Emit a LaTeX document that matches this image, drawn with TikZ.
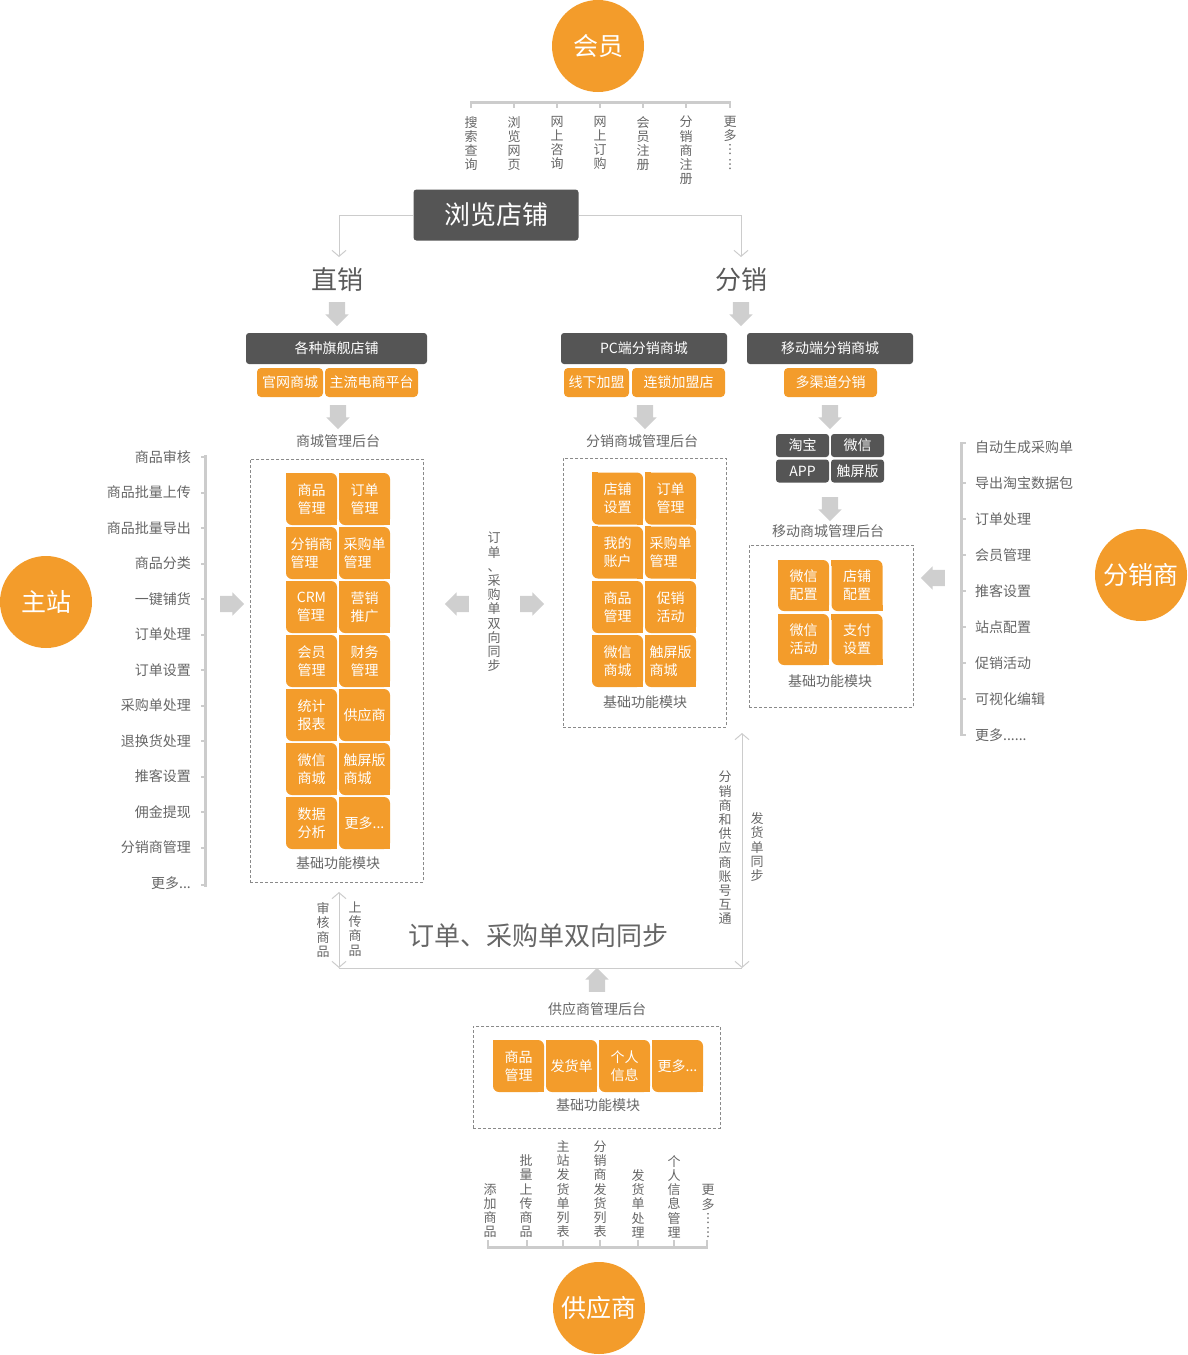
\documentclass[tikz,border=0pt]{standalone}
\usepackage{fontspec}
\setmainfont{Noto Sans CJK SC}
\usetikzlibrary{arrows.meta,shapes.arrows}
\definecolor{tileorange}{HTML}{F39C2B}
\definecolor{boxgray}{HTML}{555555}
\definecolor{textgray}{HTML}{666666}
\definecolor{headgray}{HTML}{5A5A5A}
\definecolor{linegray}{HTML}{CCCCCC}
\definecolor{arrowgray}{HTML}{CFCFCF}
\definecolor{dashgray}{HTML}{8A8A8A}

\begin{document}
\begin{tikzpicture}[x=1pt,y=-1pt,
  rolecircle/.style={circle,fill=tileorange,text=white,minimum size=92pt,inner sep=0pt,font=\fontsize{25}{27}\selectfont},
  darkbox/.style={fill=boxgray,text=white,rounded corners=3pt,minimum height=31pt,inner sep=0pt,font=\fontsize{14}{16}\selectfont},
  darktile/.style={fill=boxgray,text=white,rounded corners=3pt,minimum width=53pt,minimum height=23pt,inner sep=0pt,font=\fontsize{14}{16}\selectfont},
  orangetag/.style={fill=tileorange,text=white,rounded corners=4pt,minimum height=29pt,inner sep=0pt,font=\fontsize{14}{16}\selectfont},
  tile/.style={fill=tileorange,text=white,rounded corners=6pt,minimum width=51pt,minimum height=52pt,inner sep=0pt,align=left,font=\fontsize{14}{18}\selectfont,
    append after command={\pgfextra{\fill[tileorange,sharp corners] (\tikzlastnode.north west) rectangle ++(6pt,-6pt);
      \fill[tileorange,sharp corners] (\tikzlastnode.south east) rectangle ++(-6pt,6pt);}}},
  dashbox/.style={draw=dashgray,dash pattern=on 3pt off 2pt,line width=0.8pt,inner sep=0pt,anchor=north west},
  listlabel/.style={text=textgray,inner sep=0pt,font=\fontsize{14}{16}\selectfont},
  vlabel/.style={text=textgray,inner sep=0pt,align=center,font=\fontsize{13}{14.2}\selectfont},
  heading/.style={text=headgray,inner sep=0pt,font=\fontsize{26}{28}\selectfont},
  blockarrow/.style={single arrow,fill=arrowgray,minimum height=24pt,minimum width=0pt,single arrow head extend=3.5pt,inner xsep=0pt,inner ysep=8pt},
  thinconn/.style={draw=linegray,line width=1pt},
  bracketline/.style={draw=linegray,line width=3pt},
  bracketick/.style={draw=linegray,line width=2pt},
  chevron/.tip={Straight Barb[length=6pt,width=14pt,line width=1pt]}
]
\useasboundingbox (0,0) rectangle (1187,1355);

% role circles
\node [rolecircle] (member) at (598,46) {会员};
\node [rolecircle] (mainsite) at (46,602) {主站};
\node [rolecircle] (reseller) at (1141,575) {分销商};
\node [rolecircle] (supplier) at (599,1308) {供应商};

% member functions
\draw [bracketline] (470,102) -- (731,102);
\draw [bracketick] (471,102) -- (471,108);
\draw [bracketick] (514,102) -- (514,108);
\draw [bracketick] (557,102) -- (557,108);
\draw [bracketick] (600,102) -- (600,108);
\draw [bracketick] (643,102) -- (643,108);
\draw [bracketick] (686,102) -- (686,108);
\draw [bracketick] (730,102) -- (730,108);
\node [vlabel,anchor=north] (mb1) at (471,116) {搜\\索\\查\\询};
\node [vlabel,anchor=north] (mb2) at (514,116) {浏\\览\\网\\页};
\node [vlabel,anchor=north] (mb3) at (557,116) {网\\上\\咨\\询};
\node [vlabel,anchor=north] (mb4) at (600,116) {网\\上\\订\\购};
\node [vlabel,anchor=north] (mb5) at (643,116) {会\\员\\注\\册};
\node [vlabel,anchor=north] (mb6) at (686,116) {分\\销\\商\\注\\册};
\node [vlabel,anchor=north] (mb7) at (730,116) {更\\多\\︙\\︙};

% browse and the two channels
\node [darkbox,minimum width=165pt,minimum height=51pt,font=\fontsize{26}{28}\selectfont] (browse) at (496,215) {浏览店铺};
\coordinate (dtip) at (339,257);
\coordinate (rtip) at (741,257);
\draw [thinconn,-chevron] (browse.west) -| (dtip);
\draw [thinconn,-chevron] (browse.east) -| (rtip);
\node [heading] (direct) at (337,280) {直销};
\node [heading] (resell) at (741,280) {分销};
\node [blockarrow,rotate=-90] (ar1) at (337,310) {};
\node [blockarrow,rotate=-90] (ar2) at (741,310) {};

% shop types
\node [darkbox,minimum width=181pt] (flagship) at (336.5,348.5) {各种旗舰店铺};
\node [orangetag,minimum width=66pt] (tag1) at (290,382.5) {官网商城};
\node [orangetag,minimum width=93pt] (tag2) at (371.5,382.5) {主流电商平台};
\node [darkbox,minimum width=166pt] (pcmall) at (644,348.5) {PC端分销商城};
\node [orangetag,minimum width=65pt] (tag3) at (596.5,382.5) {线下加盟};
\node [orangetag,minimum width=93pt] (tag4) at (678.5,382.5) {连锁加盟店};
\node [darkbox,minimum width=166pt] (mobilemall) at (830,348.5) {移动端分销商城};
\node [orangetag,minimum width=93pt] (tag5) at (830.5,382.5) {多渠道分销};
\node [blockarrow,rotate=-90] (ar3) at (338,413) {};
\node [blockarrow,rotate=-90] (ar4) at (645,413) {};
\node [blockarrow,rotate=-90] (ar5) at (830,413) {};

% mobile channels
\node [darktile] (taobao) at (802.5,445.5) {淘宝};
\node [darktile] (wechat) at (857.5,445.5) {微信};
\node [darktile] (app) at (802.5,471) {APP};
\node [darktile] (touch) at (857.5,471) {触屏版};
\node [blockarrow,rotate=-90] (ar6) at (830,505) {};

% back-office titles
\node [listlabel] (malltitle) at (338,441) {商城管理后台};
\node [listlabel] (pctitle) at (642,441) {分销商城管理后台};
\node [listlabel] (mobiletitle) at (828,531) {移动商城管理后台};
\node [listlabel] (suppliertitle) at (597,1009) {供应商管理后台};

% mall back office
\node [dashbox,minimum width=173pt,minimum height=423pt] (mallbox) at (250,459) {};
\node [tile] (m11) at (311.5,499) {商品\\管理};
\node [tile] (m12) at (364.5,499) {订单\\管理};
\node [tile] (m21) at (311.5,553) {分销商\\管理};
\node [tile] (m22) at (364.5,553) {采购单\\管理};
\node [tile] (m31) at (311.5,607) {CRM\\管理};
\node [tile] (m32) at (364.5,607) {营销\\推广};
\node [tile] (m41) at (311.5,661) {会员\\管理};
\node [tile] (m42) at (364.5,661) {财务\\管理};
\node [tile] (m51) at (311.5,715) {统计\\报表};
\node [tile] (m52) at (364.5,715) {供应商};
\node [tile] (m61) at (311.5,769) {微信\\商城};
\node [tile] (m62) at (364.5,769) {触屏版\\商城};
\node [tile] (m71) at (311.5,823) {数据\\分析};
\node [tile] (m72) at (364.5,823) {更多...};
\node [listlabel] (mallbase) at (338,863) {基础功能模块};

% reseller mall back office
\node [dashbox,minimum width=163pt,minimum height=269pt] (pcbox) at (563,458) {};
\node [tile] (p11) at (617.5,498.5) {店铺\\设置};
\node [tile] (p12) at (670.5,498.5) {订单\\管理};
\node [tile] (p21) at (617.5,552.5) {我的\\账户};
\node [tile] (p22) at (670.5,552.5) {采购单\\管理};
\node [tile] (p31) at (617.5,607) {商品\\管理};
\node [tile] (p32) at (670.5,607) {促销\\活动};
\node [tile] (p41) at (617.5,661) {微信\\商城};
\node [tile] (p42) at (670.5,661) {触屏版\\商城};
\node [listlabel] (pcbase) at (645,702) {基础功能模块};

% mobile back office
\node [dashbox,minimum width=164pt,minimum height=162pt] (mobilebox) at (749,545) {};
\node [tile,minimum height=51pt] (w11) at (803.5,585.5) {微信\\配置};
\node [tile,minimum height=51pt] (w12) at (857,585.5) {店铺\\配置};
\node [tile,minimum height=51pt] (w21) at (803.5,639.5) {微信\\活动};
\node [tile,minimum height=51pt] (w22) at (857,639.5) {支付\\设置};
\node [listlabel] (mobilebase) at (830,681) {基础功能模块};

% supplier back office
\node [dashbox,minimum width=247pt,minimum height=102pt] (supplierbox) at (473,1026) {};
\node [tile] (s1) at (518.5,1066) {商品\\管理};
\node [tile] (s2) at (571.5,1066) {发货单};
\node [tile] (s3) at (624.5,1066) {个人\\信息};
\node [tile] (s4) at (677.5,1066) {更多...};
\node [listlabel] (supplierbase) at (598,1105) {基础功能模块};

% main site functions
\draw [bracketline] (205,455) -- (205,887);
\node [listlabel,anchor=east] (ml1) at (191,457) {商品审核};
\node [listlabel,anchor=east] (ml2) at (191,492.5) {商品批量上传};
\node [listlabel,anchor=east] (ml3) at (191,528) {商品批量导出};
\node [listlabel,anchor=east] (ml4) at (191,563.5) {商品分类};
\node [listlabel,anchor=east] (ml5) at (191,599) {一键铺货};
\node [listlabel,anchor=east] (ml6) at (191,634.5) {订单处理};
\node [listlabel,anchor=east] (ml7) at (191,670) {订单设置};
\node [listlabel,anchor=east] (ml8) at (191,705.5) {采购单处理};
\node [listlabel,anchor=east] (ml9) at (191,741) {退换货处理};
\node [listlabel,anchor=east] (ml10) at (191,776.5) {推客设置};
\node [listlabel,anchor=east] (ml11) at (191,812) {佣金提现};
\node [listlabel,anchor=east] (ml12) at (191,847.5) {分销商管理};
\node [listlabel,anchor=east] (ml13) at (191,883) {更多...};
\draw [bracketick] (201,457) -- (205,457);
\draw [bracketick] (201,492.5) -- (205,492.5);
\draw [bracketick] (201,528) -- (205,528);
\draw [bracketick] (201,563.5) -- (205,563.5);
\draw [bracketick] (201,599) -- (205,599);
\draw [bracketick] (201,634.5) -- (205,634.5);
\draw [bracketick] (201,670) -- (205,670);
\draw [bracketick] (201,705.5) -- (205,705.5);
\draw [bracketick] (201,741) -- (205,741);
\draw [bracketick] (201,776.5) -- (205,776.5);
\draw [bracketick] (201,812) -- (205,812);
\draw [bracketick] (201,847.5) -- (205,847.5);
\draw [bracketick] (201,885) -- (205,885);
\node [blockarrow] (ar7) at (228,604) {};

% reseller functions
\draw [bracketline] (961,442) -- (961,736);
\node [listlabel,anchor=west] (dl1) at (975,447) {自动生成采购单};
\node [listlabel,anchor=west] (dl2) at (975,483) {导出淘宝数据包};
\node [listlabel,anchor=west] (dl3) at (975,519) {订单处理};
\node [listlabel,anchor=west] (dl4) at (975,555) {会员管理};
\node [listlabel,anchor=west] (dl5) at (975,591) {推客设置};
\node [listlabel,anchor=west] (dl6) at (975,627) {站点配置};
\node [listlabel,anchor=west] (dl7) at (975,663) {促销活动};
\node [listlabel,anchor=west] (dl8) at (975,699) {可视化编辑};
\node [listlabel,anchor=west] (dl9) at (975,735) {更多......};
\draw [bracketick] (961,443) -- (966,443);
\draw [bracketick] (961,483) -- (966,483);
\draw [bracketick] (961,519) -- (966,519);
\draw [bracketick] (961,555) -- (966,555);
\draw [bracketick] (961,591) -- (966,591);
\draw [bracketick] (961,627) -- (966,627);
\draw [bracketick] (961,663) -- (966,663);
\draw [bracketick] (961,699) -- (966,699);
\draw [bracketick] (961,735) -- (966,735);
\node [blockarrow,rotate=180] (ar8) at (937,578) {};

% sync between main site and reseller mall
\node [blockarrow,rotate=180] (ar9) at (461,604) {};
\node [vlabel] (syncv) at (494,602) {订\\单\\、\\采\\购\\单\\双\\向\\同\\步};
\node [blockarrow] (ar10) at (528,604) {};

% links to the supplier
\coordinate (lt) at (339,892);
\coordinate (lb) at (339,968);
\coordinate (rt) at (742,733);
\coordinate (rb) at (742,968);
\draw [thinconn,chevron-chevron] (lt) -- (lb);
\draw [thinconn] (lb) -- (rb);
\draw [thinconn,chevron-chevron] (rt) -- (rb);
\node [vlabel] (check) at (323,930) {审\\核\\商\\品};
\node [vlabel] (upload) at (355,929) {上\\传\\商\\品};
\node [vlabel] (account) at (725,848) {分\\销\\商\\和\\供\\应\\商\\账\\号\\互\\通};
\node [vlabel] (shipsync) at (757,847) {发\\货\\单\\同\\步};
\node [heading,text=textgray] (syncbig) at (538,936) {订单、采购单双向同步};
\node [blockarrow,rotate=90] (ar11) at (597,984) {};

% supplier functions
\draw [bracketline] (487,1247) -- (708,1247);
\node [vlabel,anchor=south] (sl1) at (490,1238) {添\\加\\商\\品};
\node [vlabel,anchor=south] (sl2) at (526,1238) {批\\量\\上\\传\\商\\品};
\node [vlabel,anchor=south] (sl3) at (563,1238) {主\\站\\发\\货\\单\\列\\表};
\node [vlabel,anchor=south] (sl4) at (600,1238) {分\\销\\商\\发\\货\\列\\表};
\node [vlabel,anchor=south] (sl5) at (638,1238) {发\\货\\单\\处\\理};
\node [vlabel,anchor=south] (sl6) at (674,1238) {个\\人\\信\\息\\管\\理};
\node [vlabel,anchor=south] (sl7) at (708,1238) {更\\多\\︙\\︙};
\draw [bracketick] (488,1247) -- (488,1240);
\draw [bracketick] (527,1247) -- (527,1240);
\draw [bracketick] (563,1247) -- (563,1240);
\draw [bracketick] (600,1247) -- (600,1240);
\draw [bracketick] (638,1247) -- (638,1240);
\draw [bracketick] (674,1247) -- (674,1240);
\draw [bracketick] (707,1247) -- (707,1240);
\end{tikzpicture}
\end{document}
